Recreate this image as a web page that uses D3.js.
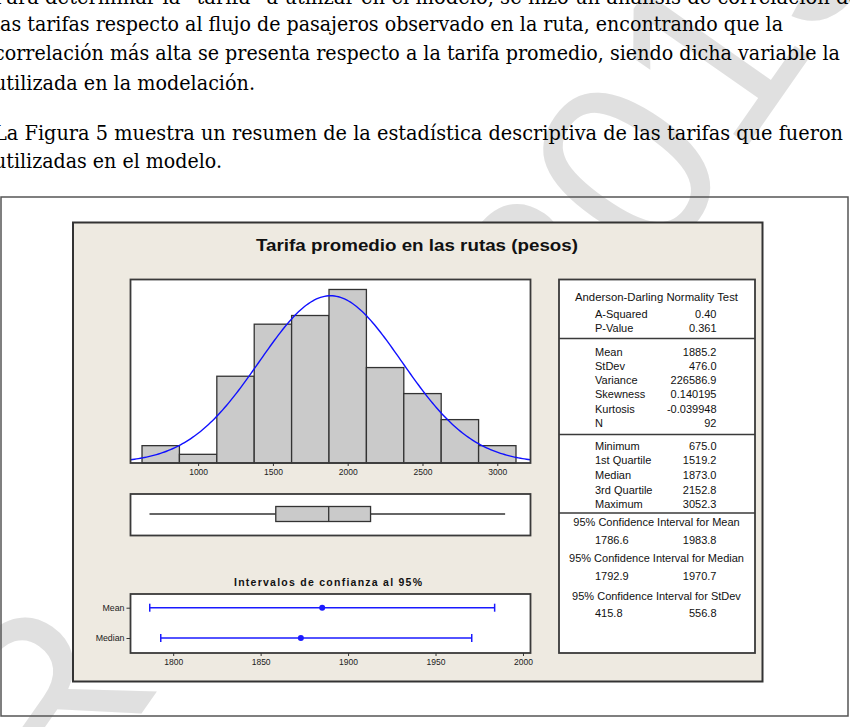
<!DOCTYPE html>
<html><head><meta charset="utf-8">
<script src="https://cdn.jsdelivr.net/npm/d3@7"></script>
<style>body{margin:0;background:#fff;}svg{display:block}</style>
</head><body>
<svg id="c" width="850" height="727"></svg>
<script>
// ---------- data ----------
const paragraphLines = [
  "Para determinar la “tarifa” a utilizar en el modelo, se hizo un análisis de correlación de",
  "las tarifas respecto al flujo de pasajeros observado en la ruta, encontrando que la",
  "correlación más alta se presenta respecto a la tarifa promedio, siendo dicha variable la",
  "utilizada en la modelación.",
  "La Figura 5 muestra un resumen de la estadística descriptiva de las tarifas que fueron",
  "utilizadas en el modelo."
];
const chartTitle = "Tarifa promedio en las rutas (pesos)";
const binEdges = [625, 875, 1125, 1375, 1625, 1875, 2125, 2375, 2625, 2875, 3125];
const binCounts = [2, 1, 10, 16, 17, 20, 11, 8, 5, 2];
const histTicks = [1000, 1500, 2000, 2500, 3000];
const fitMean = 1885.2, fitStDev = 476.0, fitN = 92;
const boxLabels = ["Minimum", "1st Quartile", "Median", "3rd Quartile", "Maximum"];
const boxValues = [675.0, 1519.2, 1873.0, 2152.8, 3052.3];
const ciTitle = "Intervalos de confianza al 95%";
const ciLabels = ["Mean", "Median"];
const ciLow = [1786.6, 1792.9];
const ciHigh = [1983.8, 1970.7];
const ciPoint = [1885.2, 1873.0];
const ciTicks = [1800, 1850, 1900, 1950, 2000];
const adTitle = "Anderson-Darling Normality Test";
const adLabels = ["A-Squared", "P-Value"];
const adValues = ["0.40", "0.361"];
const momentLabels = ["Mean", "StDev", "Variance", "Skewness", "Kurtosis", "N"];
const momentValues = ["1885.2", "476.0", "226586.9", "0.140195", "-0.039948", "92"];
const ciTableHeads = ["95% Confidence Interval for Mean", "95% Confidence Interval for Median", "95% Confidence Interval for StDev"];
const ciTableLow = ["1786.6", "1792.9", "415.8"];
const ciTableHigh = ["1983.8", "1970.7", "556.8"];

// ---------- drawing ----------
const svg = d3.select("#c");
const sans = "'Liberation Sans', Arial, sans-serif";

// watermark
const wm = svg.append("g").attr("fill", "#e0e0e0");
wm.append("text").attr("transform", "translate(578,388) rotate(-55)")
  .attr("font-family", sans).attr("font-size", 250).text("2015");
wm.append("text").attr("transform", "translate(60,830) rotate(-55)")
  .attr("font-family", sans).attr("font-size", 250).text("R");

// paragraph text
const paraY = [4, 31, 60, 90, 140, 168];
const paraEnd = [860, 783, 840, 255, 843, 222];
const paraX = -6;
svg.append("g").selectAll("text").data(paragraphLines).join("text")
  .attr("x", paraX).attr("y", (d, i) => paraY[i])
  .attr("font-family", "'DejaVu Serif', serif").attr("font-size", 19.5).attr("fill", "#000")
  .attr("textLength", (d, i) => paraEnd[i] - paraX).attr("lengthAdjust", "spacingAndGlyphs")
  .text(d => d);

// outer figure box
svg.append("rect").attr("x", 1).attr("y", 197).attr("width", 847).attr("height", 519)
  .attr("fill", "none").attr("stroke", "#555").attr("stroke-width", 1.5);

// beige panel
svg.append("rect").attr("x", 73).attr("y", 222.5).attr("width", 689.5).attr("height", 459)
  .attr("fill", "#eeeae1").attr("stroke", "#333").attr("stroke-width", 2);

svg.append("text").attr("x", 417).attr("y", 251).attr("text-anchor", "middle")
  .attr("font-family", sans).attr("font-weight", "bold").attr("font-size", 16.5)
  .attr("textLength", 322).attr("lengthAdjust", "spacingAndGlyphs").attr("fill", "#111")
  .text(chartTitle);

// histogram
const hx0 = 130.5, hx1 = 530.5, hy0 = 279.5, hy1 = 463;
const x = d3.scaleLinear().domain([548, 3222]).range([hx0, hx1]);
const y = d3.scaleLinear().domain([0, 21.15]).range([hy1, hy0]);

svg.append("rect").attr("x", hx0).attr("y", hy0).attr("width", hx1 - hx0).attr("height", hy1 - hy0)
  .attr("fill", "#fff");
const bins = binCounts.map((c, i) => ({x0: binEdges[i], x1: binEdges[i + 1], c}));
svg.append("g").selectAll("rect").data(bins).join("rect")
  .attr("x", d => x(d.x0)).attr("width", d => x(d.x1) - x(d.x0))
  .attr("y", d => y(d.c)).attr("height", d => y(0) - y(d.c))
  .attr("fill", "#cacaca").attr("stroke", "#333").attr("stroke-width", 1.3);

const binW = binEdges[1] - binEdges[0];
const dens = v => fitN * binW / (fitStDev * Math.sqrt(2 * Math.PI)) * Math.exp(-0.5 * ((v - fitMean) / fitStDev) ** 2);
const xs = d3.range(0, 201).map(i => x.domain()[0] + (x.domain()[1] - x.domain()[0]) * i / 200);
svg.append("path").datum(xs)
  .attr("d", d3.line().x(v => x(v)).y(v => y(dens(v))))
  .attr("fill", "none").attr("stroke", "#1010ff").attr("stroke-width", 1.4);

svg.append("rect").attr("x", hx0).attr("y", hy0).attr("width", hx1 - hx0).attr("height", hy1 - hy0)
  .attr("fill", "none").attr("stroke", "#3a3a3a").attr("stroke-width", 1.8);

const hAxis = svg.append("g").attr("transform", `translate(0,${hy1})`)
  .call(d3.axisBottom(x).tickValues(histTicks).tickFormat(d3.format("d")).tickSize(3).tickSizeOuter(0).tickPadding(3));
hAxis.select(".domain").remove();
hAxis.selectAll("text").attr("font-family", sans).attr("font-size", 8.5).attr("fill", "#222");
hAxis.selectAll("line").attr("stroke", "#333");

// boxplot
const by0 = 494, by1 = 535.5, byc = 514;
svg.append("rect").attr("x", hx0).attr("y", by0).attr("width", hx1 - hx0).attr("height", by1 - by0)
  .attr("fill", "#fff").attr("stroke", "#3a3a3a").attr("stroke-width", 1.8);
const [bmin, bq1, bmed, bq3, bmax] = boxValues;
const bg = svg.append("g").attr("stroke", "#333").attr("stroke-width", 1.3);
bg.append("line").attr("x1", x(bmin)).attr("x2", x(bq1)).attr("y1", byc).attr("y2", byc);
bg.append("line").attr("x1", x(bq3)).attr("x2", x(bmax)).attr("y1", byc).attr("y2", byc);
bg.append("rect").attr("x", x(bq1)).attr("width", x(bq3) - x(bq1)).attr("y", byc - 7.5).attr("height", 15)
  .attr("fill", "#cacaca");
bg.append("line").attr("x1", x(bmed)).attr("x2", x(bmed)).attr("y1", byc - 7.5).attr("y2", byc + 7.5);

// confidence intervals
svg.append("text").attr("x", 328).attr("y", 586).attr("text-anchor", "middle")
  .attr("font-family", sans).attr("font-weight", "bold").attr("font-size", 10.5)
  .attr("textLength", 188).attr("lengthAdjust", "spacing").attr("fill", "#111")
  .text(ciTitle);
const cy0 = 594, cy1 = 653;
const cx = d3.scaleLinear().domain([1775.6, 2004.3]).range([hx0, hx1]);
const cyS = d3.scalePoint().domain(ciLabels).range([607.7, 638]);
svg.append("rect").attr("x", hx0).attr("y", cy0).attr("width", hx1 - hx0).attr("height", cy1 - cy0)
  .attr("fill", "#fff").attr("stroke", "#3a3a3a").attr("stroke-width", 1.8);
const ci = ciLabels.map((l, i) => ({l, lo: ciLow[i], hi: ciHigh[i], p: ciPoint[i]}));
const cg = svg.append("g").selectAll("g").data(ci).join("g").attr("stroke", "#1a1aff").attr("stroke-width", 1.5);
cg.append("line").attr("x1", d => cx(d.lo)).attr("x2", d => cx(d.hi)).attr("y1", d => cyS(d.l)).attr("y2", d => cyS(d.l));
cg.append("line").attr("x1", d => cx(d.lo)).attr("x2", d => cx(d.lo)).attr("y1", d => cyS(d.l) - 4).attr("y2", d => cyS(d.l) + 4);
cg.append("line").attr("x1", d => cx(d.hi)).attr("x2", d => cx(d.hi)).attr("y1", d => cyS(d.l) - 4).attr("y2", d => cyS(d.l) + 4);
cg.append("circle").attr("cx", d => cx(d.p)).attr("cy", d => cyS(d.l)).attr("r", 3).attr("fill", "#1a1aff").attr("stroke", "none");

const cAxis = svg.append("g").attr("transform", `translate(0,${cy1})`)
  .call(d3.axisBottom(cx).tickValues(ciTicks).tickFormat(d3.format("d")).tickSize(3).tickSizeOuter(0).tickPadding(3));
cAxis.select(".domain").remove();
cAxis.selectAll("text").attr("font-family", sans).attr("font-size", 8.5).attr("fill", "#222");
cAxis.selectAll("line").attr("stroke", "#333");
const cyAxis = svg.append("g").attr("transform", `translate(${hx0},0)`)
  .call(d3.axisLeft(cyS).tickSize(4).tickSizeOuter(0).tickPadding(2));
cyAxis.select(".domain").remove();
cyAxis.selectAll("text").attr("font-family", sans).attr("font-size", 8.8).attr("fill", "#222");
cyAxis.selectAll("line").attr("stroke", "#333");

// stats table
const sx0 = 559, sx1 = 755, sy0 = 279.5, sy1 = 653;
svg.append("rect").attr("x", sx0).attr("y", sy0).attr("width", sx1 - sx0).attr("height", sy1 - sy0)
  .attr("fill", "#fff").attr("stroke", "#3a3a3a").attr("stroke-width", 1.8);
[338.5, 434.5, 513].forEach(yy => svg.append("line").attr("x1", sx0).attr("x2", sx1).attr("y1", yy).attr("y2", yy)
  .attr("stroke", "#3a3a3a").attr("stroke-width", 1.5));
const st = svg.append("g").attr("font-family", sans).attr("font-size", 11).attr("fill", "#111");
const lblX = 595, valX = 716.5;
st.append("text").attr("x", 656.5).attr("y", 296.7).attr("dy", "0.35em").attr("text-anchor", "middle")
  .attr("textLength", 163).attr("lengthAdjust", "spacingAndGlyphs").text(adTitle);
const rows = [];
adLabels.forEach((l, i) => rows.push({l, v: adValues[i], y: 314.3 + i * 14}));
momentLabels.forEach((l, i) => rows.push({l, v: momentValues[i], y: 351.7 + i * 14.3}));
boxLabels.forEach((l, i) => rows.push({l, v: boxValues[i].toFixed(1), y: 446 + i * 14.6}));
st.selectAll("text.l").data(rows).join("text").attr("class", "l")
  .attr("x", lblX).attr("y", d => d.y).attr("dy", "0.35em").text(d => d.l);
st.selectAll("text.v").data(rows).join("text").attr("class", "v")
  .attr("x", valX).attr("y", d => d.y).attr("dy", "0.35em").attr("text-anchor", "end").text(d => d.v);
const headY = [522.3, 557.7, 595.7], valY = [540, 575.7, 613.3];
ciTableHeads.forEach((h, i) => {
  st.append("text").attr("x", 656.5).attr("y", headY[i]).attr("dy", "0.35em").attr("text-anchor", "middle").text(h);
  st.append("text").attr("x", lblX).attr("y", valY[i]).attr("dy", "0.35em").text(ciTableLow[i]);
  st.append("text").attr("x", valX).attr("y", valY[i]).attr("dy", "0.35em").attr("text-anchor", "end").text(ciTableHigh[i]);
});
</script>
</body></html>
